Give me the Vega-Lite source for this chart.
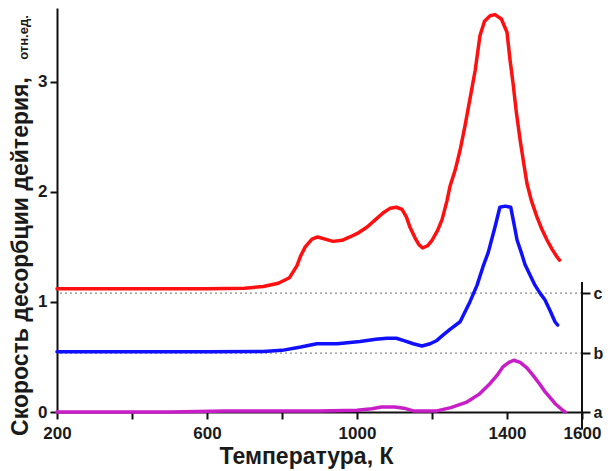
{
  "$schema": "https://vega.github.io/schema/vega-lite/v6.json",
  "width": 525,
  "height": 404,
  "autosize": "none",
  "padding": {"left": 57, "top": 8, "right": 28, "bottom": 59},
  "background": "white",
  "config": {
    "view": {"stroke": null},
    "font": "Liberation Sans",
    "axis": {
      "domainColor": "#111",
      "domainWidth": 2,
      "tickColor": "#111",
      "tickWidth": 2,
      "tickSize": 7,
      "grid": false,
      "labelFont": "Liberation Sans",
      "labelFontWeight": "bold",
      "labelFontSize": 17,
      "labelColor": "#1a1a1a",
      "titleFont": "Liberation Sans",
      "titleFontWeight": "bold",
      "titleColor": "#1a1a1a"
    }
  },
  "datasets": {
    "curves": [
      {"series": "c", "T": 200, "v": 1.12}, {"series": "c", "T": 400, "v": 1.12}, {"series": "c", "T": 600, "v": 1.12},
      {"series": "c", "T": 700, "v": 1.125}, {"series": "c", "T": 750, "v": 1.14}, {"series": "c", "T": 790, "v": 1.17},
      {"series": "c", "T": 820, "v": 1.22}, {"series": "c", "T": 840, "v": 1.33}, {"series": "c", "T": 850, "v": 1.42},
      {"series": "c", "T": 862, "v": 1.5}, {"series": "c", "T": 880, "v": 1.57}, {"series": "c", "T": 895, "v": 1.59},
      {"series": "c", "T": 915, "v": 1.57}, {"series": "c", "T": 936, "v": 1.55}, {"series": "c", "T": 960, "v": 1.56},
      {"series": "c", "T": 981, "v": 1.59}, {"series": "c", "T": 1005, "v": 1.63}, {"series": "c", "T": 1027, "v": 1.68},
      {"series": "c", "T": 1050, "v": 1.75}, {"series": "c", "T": 1070, "v": 1.81}, {"series": "c", "T": 1088, "v": 1.85},
      {"series": "c", "T": 1105, "v": 1.86}, {"series": "c", "T": 1120, "v": 1.84}, {"series": "c", "T": 1132, "v": 1.77},
      {"series": "c", "T": 1141, "v": 1.68}, {"series": "c", "T": 1155, "v": 1.58}, {"series": "c", "T": 1165, "v": 1.52},
      {"series": "c", "T": 1175, "v": 1.49}, {"series": "c", "T": 1188, "v": 1.51}, {"series": "c", "T": 1200, "v": 1.56},
      {"series": "c", "T": 1215, "v": 1.65}, {"series": "c", "T": 1227, "v": 1.75}, {"series": "c", "T": 1240, "v": 1.92},
      {"series": "c", "T": 1248, "v": 2.05}, {"series": "c", "T": 1262, "v": 2.2}, {"series": "c", "T": 1275, "v": 2.38},
      {"series": "c", "T": 1288, "v": 2.6}, {"series": "c", "T": 1301, "v": 2.84}, {"series": "c", "T": 1315, "v": 3.1},
      {"series": "c", "T": 1328, "v": 3.42}, {"series": "c", "T": 1340, "v": 3.55}, {"series": "c", "T": 1355, "v": 3.6},
      {"series": "c", "T": 1368, "v": 3.61}, {"series": "c", "T": 1385, "v": 3.57}, {"series": "c", "T": 1400, "v": 3.45},
      {"series": "c", "T": 1408, "v": 3.2}, {"series": "c", "T": 1416, "v": 2.99}, {"series": "c", "T": 1425, "v": 2.72},
      {"series": "c", "T": 1435, "v": 2.47}, {"series": "c", "T": 1445, "v": 2.25}, {"series": "c", "T": 1453, "v": 2.08},
      {"series": "c", "T": 1465, "v": 1.92}, {"series": "c", "T": 1480, "v": 1.77}, {"series": "c", "T": 1493, "v": 1.66},
      {"series": "c", "T": 1507, "v": 1.56}, {"series": "c", "T": 1520, "v": 1.48}, {"series": "c", "T": 1533, "v": 1.41},
      {"series": "c", "T": 1540, "v": 1.38},
      {"series": "b", "T": 200, "v": 0.548}, {"series": "b", "T": 600, "v": 0.548}, {"series": "b", "T": 750, "v": 0.55},
      {"series": "b", "T": 800, "v": 0.56}, {"series": "b", "T": 850, "v": 0.59}, {"series": "b", "T": 893, "v": 0.62},
      {"series": "b", "T": 947, "v": 0.62}, {"series": "b", "T": 1008, "v": 0.64}, {"series": "b", "T": 1050, "v": 0.66},
      {"series": "b", "T": 1080, "v": 0.67}, {"series": "b", "T": 1105, "v": 0.67}, {"series": "b", "T": 1123, "v": 0.65},
      {"series": "b", "T": 1150, "v": 0.62}, {"series": "b", "T": 1173, "v": 0.6}, {"series": "b", "T": 1195, "v": 0.62},
      {"series": "b", "T": 1213, "v": 0.65}, {"series": "b", "T": 1230, "v": 0.7}, {"series": "b", "T": 1248, "v": 0.75},
      {"series": "b", "T": 1275, "v": 0.82}, {"series": "b", "T": 1301, "v": 1.0}, {"series": "b", "T": 1320, "v": 1.15},
      {"series": "b", "T": 1336, "v": 1.32}, {"series": "b", "T": 1350, "v": 1.45}, {"series": "b", "T": 1368, "v": 1.68},
      {"series": "b", "T": 1381, "v": 1.86}, {"series": "b", "T": 1395, "v": 1.87}, {"series": "b", "T": 1410, "v": 1.86},
      {"series": "b", "T": 1418, "v": 1.72}, {"series": "b", "T": 1427, "v": 1.56}, {"series": "b", "T": 1438, "v": 1.45},
      {"series": "b", "T": 1448, "v": 1.34}, {"series": "b", "T": 1462, "v": 1.24}, {"series": "b", "T": 1475, "v": 1.15},
      {"series": "b", "T": 1488, "v": 1.08}, {"series": "b", "T": 1501, "v": 1.02}, {"series": "b", "T": 1515, "v": 0.92},
      {"series": "b", "T": 1528, "v": 0.82}, {"series": "b", "T": 1535, "v": 0.79},
      {"series": "a", "T": 200, "v": 0.0}, {"series": "a", "T": 500, "v": 0.0}, {"series": "a", "T": 650, "v": 0.01},
      {"series": "a", "T": 900, "v": 0.01}, {"series": "a", "T": 1000, "v": 0.015}, {"series": "a", "T": 1040, "v": 0.03},
      {"series": "a", "T": 1065, "v": 0.045}, {"series": "a", "T": 1100, "v": 0.045}, {"series": "a", "T": 1125, "v": 0.035},
      {"series": "a", "T": 1150, "v": 0.01}, {"series": "a", "T": 1180, "v": 0.008}, {"series": "a", "T": 1213, "v": 0.01},
      {"series": "a", "T": 1250, "v": 0.04}, {"series": "a", "T": 1293, "v": 0.09}, {"series": "a", "T": 1325, "v": 0.16},
      {"series": "a", "T": 1355, "v": 0.26}, {"series": "a", "T": 1375, "v": 0.34}, {"series": "a", "T": 1389, "v": 0.41},
      {"series": "a", "T": 1405, "v": 0.45}, {"series": "a", "T": 1418, "v": 0.47}, {"series": "a", "T": 1435, "v": 0.45},
      {"series": "a", "T": 1453, "v": 0.4}, {"series": "a", "T": 1470, "v": 0.33}, {"series": "a", "T": 1488, "v": 0.25},
      {"series": "a", "T": 1500, "v": 0.19}, {"series": "a", "T": 1515, "v": 0.13}, {"series": "a", "T": 1530, "v": 0.07},
      {"series": "a", "T": 1547, "v": 0.02}, {"series": "a", "T": 1555, "v": 0.0}
    ],
    "baselines": [
      {"series": "c", "ref": 1.08},
      {"series": "b", "ref": 0.535}
    ]
  },
  "resolve": {"axis": {"y": "independent"}},
  "layer": [
    {
      "data": {"name": "baselines"},
      "mark": {"type": "rule", "strokeDash": [2, 3], "stroke": "#8a8a8a", "strokeWidth": 1.2},
      "encoding": {
        "y": {
          "field": "ref", "type": "quantitative",
          "scale": {"domain": [0, 3.67], "nice": false},
          "axis": {"orient": "left", "title": "отн.ед.", "titleFontSize": 13, "labels": false, "ticks": false, "domain": false, "titleX": -30, "titleY": 29, "titleAngle": 270, "titleBaseline": "alphabetic", "titleAlign": "center"}
        }
      }
    },
    {
      "data": {"name": "curves"},
      "mark": {"type": "line", "strokeWidth": 3.5, "strokeJoin": "round", "strokeCap": "round"},
      "encoding": {
        "x": {
          "field": "T", "type": "quantitative",
          "scale": {"domain": [200, 1600], "nice": false},
          "axis": {"values": [200, 400, 600, 800, 1000, 1200, 1400, 1600], "labelExpr": "datum.value == 400 || datum.value == 800 || datum.value == 1200 ? '' : datum.label", "format": "d", "title": "Температура, К", "titleFontSize": 23, "titleX": 249, "titleY": 51, "titleBaseline": "alphabetic", "titleAlign": "center", "labelPadding": 6, "labelOverlap": false, "labelFlush": false}
        },
        "y": {
          "field": "v", "type": "quantitative",
          "scale": {"domain": [0, 3.67], "nice": false},
          "axis": {"orient": "left", "values": [0, 1, 2, 3], "title": "Скорость десорбции дейтерия,", "titleFontSize": 23, "titleX": -30, "titleY": 248, "titleAngle": 270, "titleBaseline": "alphabetic", "titleAlign": "center", "labelPadding": 3}
        },
        "color": {"field": "series", "type": "nominal", "scale": {"domain": ["c", "b", "a"], "range": ["#ff1010", "#1010ff", "#c81ec8"]}, "legend": null},
        "strokeWidth": {"field": "series", "type": "nominal", "scale": {"domain": ["c", "b", "a"], "range": [4.5, 4.5, 3]}, "legend": null}
      }
    },
    {
      "data": {"values": [{}]},
      "mark": {"type": "rule", "stroke": "#111", "strokeWidth": 2},
      "encoding": {
        "x": {"datum": 1600},
        "y": {
          "datum": -0.16,
          "axis": {"orient": "right", "values": [0, 0.535, 1.08], "labelExpr": "datum.value < 0.3 ? 'a' : (datum.value < 0.8 ? 'b' : 'c')", "domain": false, "title": null, "tickSize": 8, "labelPadding": 3, "labelFontSize": 16}
        },
        "y2": {"datum": 1.18}
      }
    }
  ]
}
